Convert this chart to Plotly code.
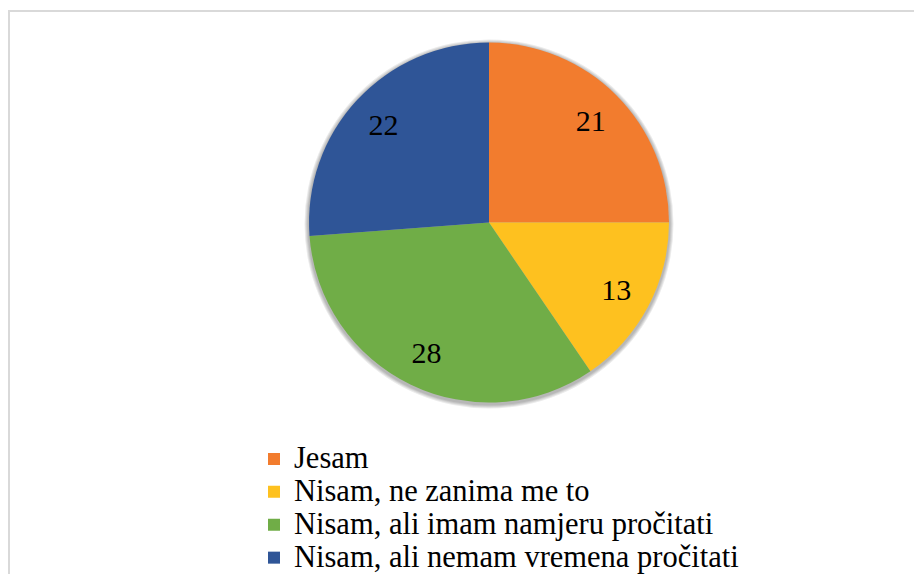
import plotly.graph_objects as go

categories = ["Jesam", "Nisam, ne zanima me to", "Nisam, ali imam namjeru pročitati", "Nisam, ali nemam vremena pročitati"]
values = [21, 13, 28, 22]
colors = ["#F27C2E", "#FEC11F", "#70AD47", "#2F5597"]

# the page body has an 8px margin: the figure is sized/placed to fit the 922x582 window
OFF = 8
W, H = 922 - 2 * OFF, 582 - 2 * OFF
SERIF = "Liberation Serif, Times New Roman, serif"

cx, cy, r = 489 - OFF, 222.5 - OFF, 180
dom_x = [(cx - r) / W, (cx + r) / W]
dom_y = [(H - cy - r) / H, (H - cy + r) / H]

legend_labels = [f'<span style="font-size:30.5px">{c}</span>' for c in categories]

fig = go.Figure()
fig.add_trace(go.Pie(
    labels=legend_labels, values=values, sort=False, direction="clockwise", rotation=0,
    marker=dict(colors=colors, line=dict(width=0)),
    textinfo="none", domain=dict(x=dom_x, y=dom_y), hoverinfo="value",
))
fig.add_trace(go.Pie(
    labels=legend_labels, values=values, sort=False, direction="clockwise", rotation=0,
    hole=0.6, showlegend=False,
    marker=dict(colors=["rgba(0,0,0,0)"] * 4, line=dict(width=0)),
    textinfo="value", textposition="inside", insidetextorientation="horizontal",
    textfont=dict(family=SERIF, size=30, color="black"),
    domain=dict(x=dom_x, y=dom_y), hoverinfo="skip",
))

# soft drop shadow behind the pie (stacked translucent circles)
shapes = []
for extra in [4.5, 3.5, 2.5, 1.5]:
    R = r + extra
    sy = cy + 1.5
    shapes.append(dict(type="circle", xref="paper", yref="paper", layer="below",
                       x0=(cx - R) / W, x1=(cx + R) / W,
                       y0=(H - sy - R) / H, y1=(H - sy + R) / H,
                       line=dict(width=0), fillcolor="rgba(0,0,0,0.08)"))
# chart-area frame
shapes.append(dict(type="rect", xref="paper", yref="paper",
                   x0=1 / W, x1=1.2, y0=-0.2, y1=(H - 3) / H,
                   line=dict(color="#D9D9D9", width=2), fillcolor="rgba(0,0,0,0)", layer="below"))

legend_top = 437.5 - OFF
fig.update_layout(
    width=W, height=H, margin=dict(l=0, r=0, t=0, b=0, autoexpand=False),
    paper_bgcolor="white", plot_bgcolor="white",
    font=dict(family=SERIF, color="black"),
    uniformtext=dict(minsize=30, mode="show"),
    legend=dict(
        orientation="v", x=(254 - OFF) / W, xanchor="left", y=(H - legend_top) / H, yanchor="top",
        font=dict(family=SERIF, size=23, color="black"),
        bgcolor="rgba(0,0,0,0)", traceorder="normal", borderwidth=0,
    ),
    shapes=shapes,
)

fig.write_html("out.html")
